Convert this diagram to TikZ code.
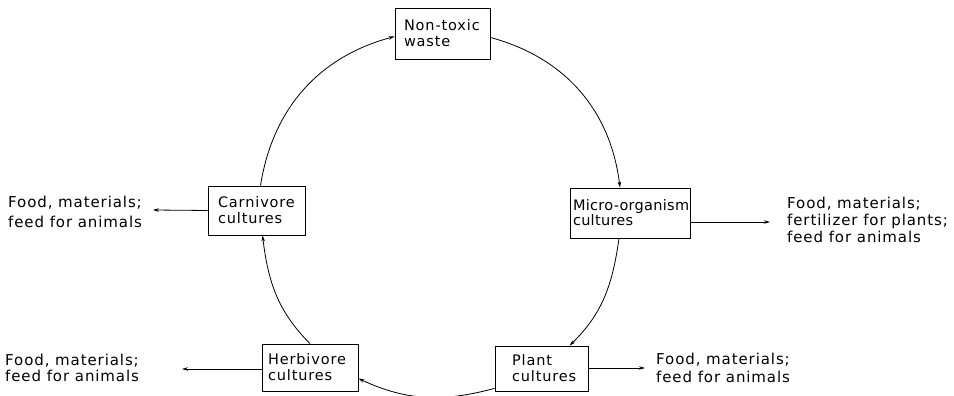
\documentclass[tikz,border=0pt]{standalone}
\usepackage{fontspec}
\setmainfont[LetterSpace=6]{DejaVu Sans}
\newfontfamily\tightfont[LetterSpace=2]{DejaVu Sans}
\usetikzlibrary{arrows.meta,calc}
\tikzset{
  box/.style={draw, line width=0.8pt, align=left, inner ysep=0pt,
    font=\fontsize{14.5}{16}\selectfont},
  outtext/.style={inner sep=0pt, align=left, anchor=west,
    font=\fontsize{15}{18}\selectfont},
  flow/.style={line width=0.8pt, -{Stealth[length=6pt,width=3.5pt]}},
}
\begin{document}
\begin{tikzpicture}[x=1pt,y=1pt]
\useasboundingbox (0,0) rectangle (954,396);
% boxes
\node[box, minimum width=95pt, minimum height=51pt, inner xsep=9pt, text width=77pt] (waste) at (442.5,362.5) {Non-toxic\\waste};
\node[box, minimum width=97pt, minimum height=49pt, inner xsep=10pt, text width=77pt] (carn) at (256.5,185.5) {Carnivore\\cultures};
\node[box, minimum width=120pt, minimum height=50pt, inner xsep=3pt, text width=114pt, font=\tightfont\fontsize{14.5}{14}\selectfont] (micro) at (630,183) {\mbox{Micro-organism}\\cultures};
\node[box, minimum width=93pt, minimum height=45pt, inner xsep=17pt, text width=59pt] (plant) at (541.5,27.5) {Plant\\cultures};
\node[box, minimum width=96pt, minimum height=47pt, inner xsep=6pt, text width=84pt] (herb) at (310,28.5) {Herbivore\\cultures};
% cycle
\draw[flow] ($(waste.east)+(0,-4)$) to[out=-15,in=97] ($(micro.north)+(-10,0)$);
\draw[flow] ($(micro.south)+(-11,0)$) to[out=-98,in=44] ($(plant.north)+(28,0)$);
\draw[flow] ($(plant.south west)+(0,3)$) to[out=195,in=-25] ($(herb.east)+(0,-11)$);
\draw[flow] (herb.north) to[out=135,in=-83] ($(carn.south)+(6,0)$);
\draw[flow] ($(carn.north)+(4,0)$) to[out=81,in=195] ($(waste.west)+(0,-3)$);
% outputs
\coordinate (c1) at (153,186);
\coordinate (c2) at (770,174);
\coordinate (c3) at (182,27);
\coordinate (c4) at (645,28);
\draw[flow] (carn.west) -- (c1);
\draw[flow] ($(micro.east)+(0,-9)$) -- (c2);
\draw[flow] (herb.west |- c3) -- (c3);
\draw[flow] (plant.east |- c4) -- (c4);
\node[outtext, font=\fontsize{15}{20}\selectfont] (carnout) at (8,184) {Food, materials;\\feed for animals};
\node[outtext, font=\fontsize{15}{17}\selectfont] (microout) at (787,176) {Food, materials;\\fertilizer for plants;\\feed for animals};
\node[outtext, font=\fontsize{15}{16}\selectfont] (herbout) at (5,28.5) {Food, materials;\\feed for animals};
\node[outtext] (plantout) at (656,28) {Food, materials;\\feed for animals};
\end{tikzpicture}
\end{document}
